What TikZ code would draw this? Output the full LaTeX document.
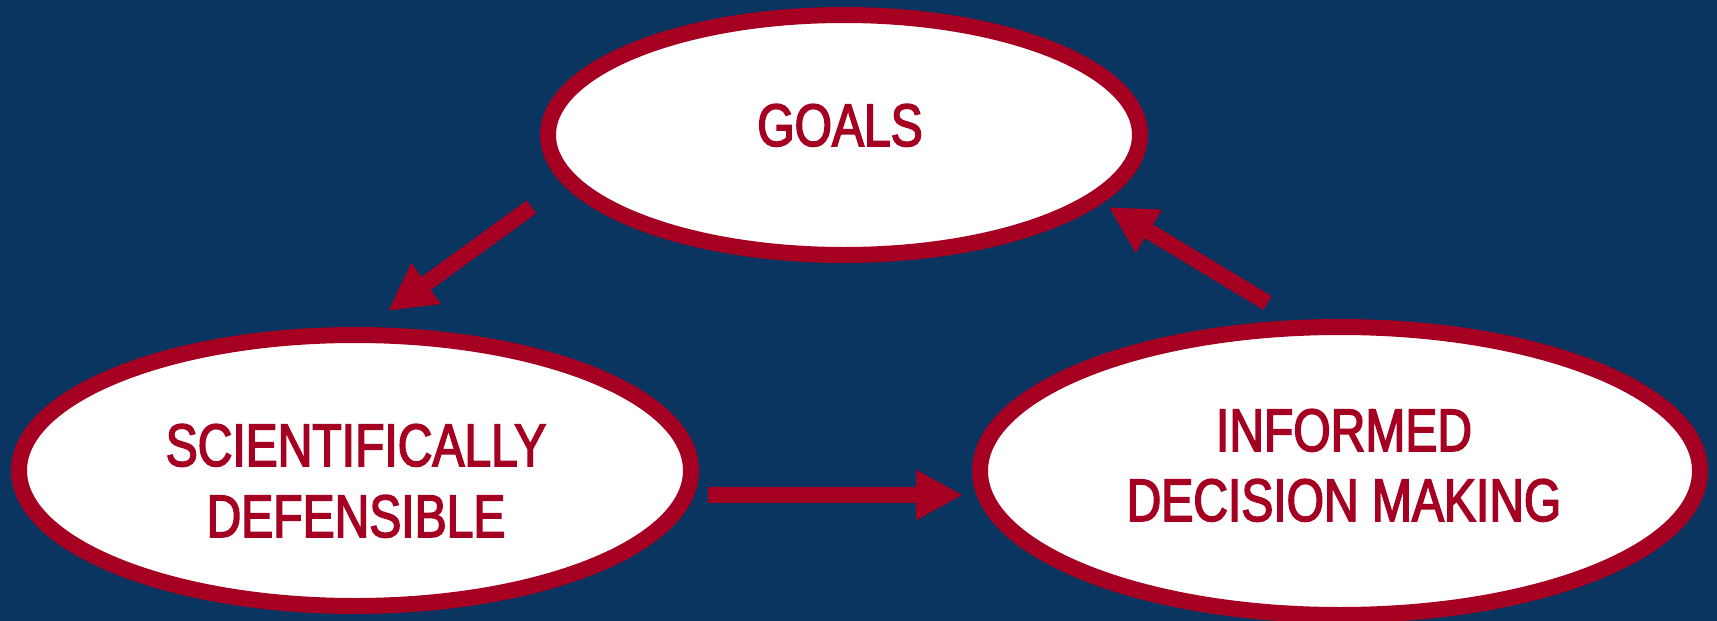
\documentclass[tikz,border=0pt]{standalone}
\usepackage{fontspec}
\setmainfont{Liberation Sans}[FakeStretch=0.8,FakeBold=2.5]
\usetikzlibrary{shapes.geometric,arrows.meta}
\definecolor{bgblue}{HTML}{0A3561}
\definecolor{cred}{HTML}{A50021}
\begin{document}
\begin{tikzpicture}[x=1pt,y=-1pt,
  oval/.style={ellipse, draw=cred, fill=white, line width=16pt, inner sep=0pt},
  lbl/.style={anchor=base, text=cred, font=\fontsize{60}{70}\selectfont, inner sep=0pt},
  arr/.style={draw=cred, line width=16pt, -{Triangle[length=47pt,width=47pt]}}]
\fill[bgblue] (0,0) rectangle (1717,621);
\useasboundingbox (0,0) rectangle (1717,621);
\node[oval, minimum width=592pt, minimum height=240pt] (goals) at (844,135) {};
\node[oval, minimum width=672pt, minimum height=271pt] (sci) at (355,470.5) {};
\node[oval, minimum width=720pt, minimum height=288pt] (inf) at (1340,471) {};
\node[lbl] (goalsT) at (840,146) {GOALS};
\node[lbl] (sciT1) at (356,466) {SCIENTIFICALLY};
\node[lbl] (sciT2) at (356,537) {DEFENSIBLE};
\node[lbl] (infT1) at (1344,451) {INFORMED};
\node[lbl] (infT2) at (1344,521) {DECISION MAKING};
\coordinate (a1s) at (531.5,207);
\coordinate (a1e) at (388,311);
\coordinate (a2s) at (708,495);
\coordinate (a2e) at (963,495);
\coordinate (a3s) at (1267.5,303);
\coordinate (a3e) at (1108.6,207);
\draw[arr] (a1s) -- (a1e);
\draw[arr] (a2s) -- (a2e);
\draw[arr] (a3s) -- (a3e);
\end{tikzpicture}
\end{document}
